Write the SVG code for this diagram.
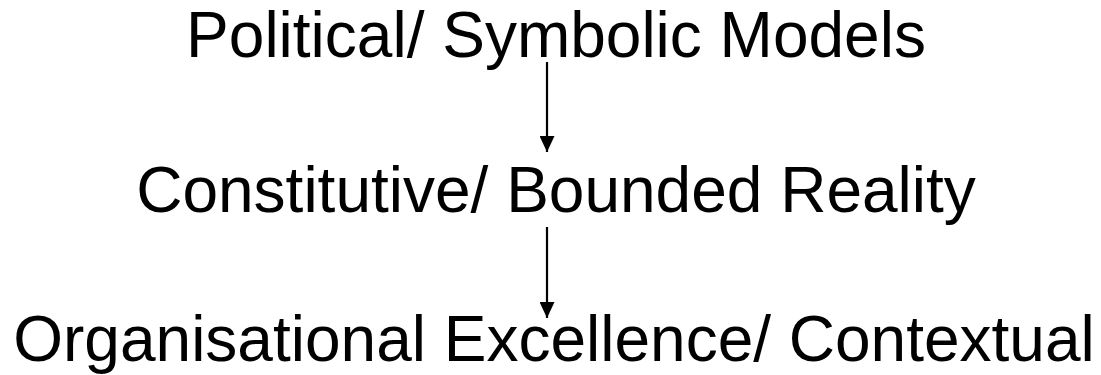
<svg xmlns="http://www.w3.org/2000/svg" width="1101" height="375" viewBox="0 0 1101 375">
<style>
.t{font-family:"Liberation Sans",Arial,sans-serif;font-size:64px;fill:#000;text-anchor:middle}
.c{stroke:#000;stroke-width:2.2;fill:none}
</style>
<defs>
<marker id="ah" viewBox="0 0 16 15" refX="16" refY="7.5" markerWidth="16" markerHeight="15" markerUnits="userSpaceOnUse" orient="auto">
<path d="M0,0 L16,7.5 L0,15 Z" fill="#000"/>
</marker>
</defs>
<rect width="1101" height="375" fill="#fff"/>
<g id="n1"><text class="t" x="556" y="57">Political/ Symbolic Models</text></g>
<g id="n2"><text class="t" x="556" y="212">Constitutive/ Bounded Reality</text></g>
<g id="n3"><text class="t" x="554" y="361">Organisational Excellence/ Contextual</text></g>
<g id="connectors">
<line class="c" x1="547" y1="62" x2="547" y2="152" marker-end="url(#ah)"/>
<line class="c" x1="547" y1="227" x2="547" y2="318" marker-end="url(#ah)"/>
</g>
</svg>
